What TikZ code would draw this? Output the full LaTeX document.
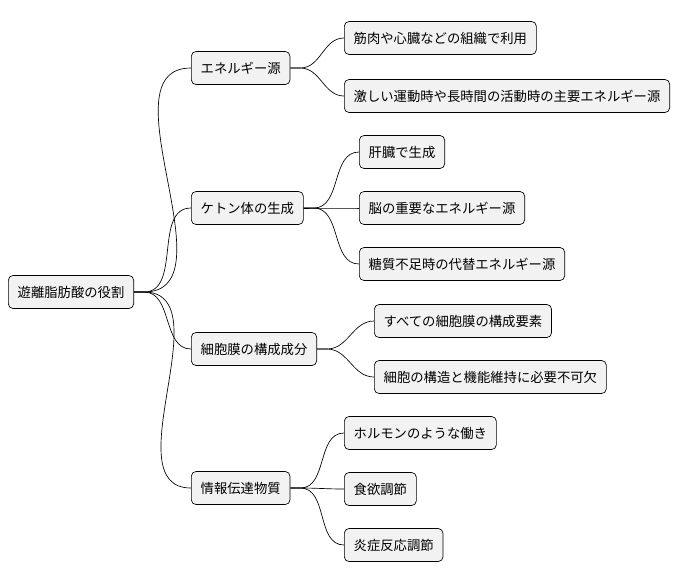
\documentclass[tikz,border=0pt]{standalone}
\usepackage{fontspec}
\newfontfamily\cjk{Noto Sans CJK JP}
\begin{document}
\begin{tikzpicture}[x=0.75pt,y=-0.75pt,
  topic/.style={draw=black,fill=black!5,rounded corners=3.5pt,line width=0.5pt,
    anchor=west,minimum height=24.75pt,inner xsep=7pt,font=\cjk\fontsize{10pt}{12pt}\selectfont},
  link/.style={line width=0.5pt}]
  \useasboundingbox (0,0) rectangle (698,583);
  \node[topic] (root) at (8,292) {遊離脂肪酸の役割};
  \node[topic] (a) at (191,68) {エネルギー源};
  \node[topic] (b) at (191,208) {ケトン体の生成};
  \node[topic] (c) at (191,349) {細胞膜の構成成分};
  \node[topic] (d) at (191,488) {情報伝達物質};
  \node[topic] (a1) at (344,38) {筋肉や心臓などの組織で利用};
  \node[topic] (a2) at (344,96) {激しい運動時や長時間の活動時の主要エネルギー源};
  \node[topic] (b1) at (359,152) {肝臓で生成};
  \node[topic] (b2) at (359,208) {脳の重要なエネルギー源};
  \node[topic] (b3) at (359,264) {糖質不足時の代替エネルギー源};
  \node[topic] (c1) at (374,321) {すべての細胞膜の構成要素};
  \node[topic] (c2) at (374,377) {細胞の構造と機能維持に必要不可欠};
  \node[topic] (d1) at (344,433) {ホルモンのような働き};
  \node[topic] (d2) at (344,489) {食欲調節};
  \node[topic] (d3) at (344,545) {炎症反応調節};
  \foreach \p/\c in {root/a,root/b,root/c,root/d,a/a1,a/a2,b/b1,b/b2,b/b3,c/c1,c/c2,d/d1,d/d2,d/d3}
    \draw[link] (\p.east) -- ++(10,0) to[out=0,in=180] (\c.west);
\end{tikzpicture}
\end{document}
